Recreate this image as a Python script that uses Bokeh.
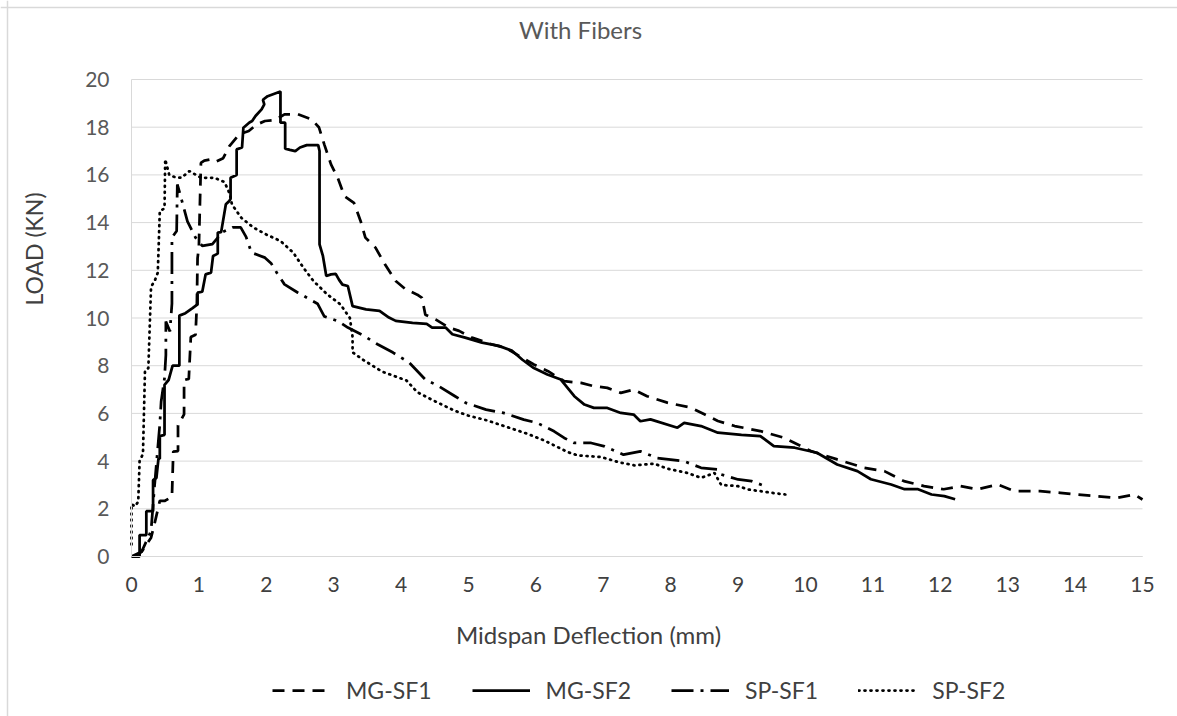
import math
from bokeh.plotting import figure
from bokeh.models import FixedTicker, Label, Legend, LegendItem, Range1d, Span
from bokeh.embed import file_html
from bokeh.resources import INLINE

# ---- data ----
x_ticks = list(range(0, 16))
y_ticks = list(range(0, 21, 2))

mg_sf1_x = [0.05, 0.15, 0.29, 0.34, 0.42, 0.49, 0.6, 0.62, 0.69, 0.69, 0.78, 0.78, 0.85, 0.88, 0.95, 0.97, 0.98, 1.0, 1.03, 1.08, 1.17, 1.25, 1.36, 1.45, 1.6, 1.74, 1.85, 1.98, 2.13, 2.27, 2.47, 2.67, 2.78, 2.86, 2.96, 3.06, 3.16, 3.3, 3.4, 3.47, 3.62, 3.76, 3.92, 4.07, 4.24, 4.31, 4.36, 4.51, 4.71, 4.86, 5.05, 5.34, 5.55, 5.75, 5.97, 6.18, 6.42, 6.67, 6.86, 7.06, 7.26, 7.45, 7.65, 7.95, 8.3, 8.5, 8.7, 8.95, 9.33, 9.68, 10.08, 10.47, 10.87, 11.17, 11.46, 11.76, 12.05, 12.3, 12.55, 12.85, 13.1, 13.48, 13.78, 14.02, 14.32, 14.62, 14.88, 15.0]
mg_sf1_y = [0.0, 0.2, 0.79, 1.35, 2.33, 2.33, 2.5, 4.4, 4.42, 5.5, 5.96, 7.4, 7.45, 9.2, 9.3, 10.57, 12.5, 13.0, 16.5, 16.6, 16.65, 16.55, 16.7, 17.2, 17.7, 17.84, 18.1, 18.26, 18.3, 18.54, 18.54, 18.33, 18.0, 17.28, 16.44, 15.88, 15.11, 14.83, 14.06, 13.37, 12.95, 12.25, 11.55, 11.2, 10.98, 10.84, 10.14, 9.94, 9.6, 9.46, 9.18, 8.9, 8.75, 8.41, 8.05, 7.77, 7.35, 7.28, 7.14, 7.07, 6.86, 7.0, 6.72, 6.45, 6.24, 5.96, 5.68, 5.47, 5.26, 4.98, 4.42, 4.07, 3.72, 3.58, 3.16, 2.95, 2.82, 2.95, 2.82, 3.02, 2.74, 2.74, 2.67, 2.6, 2.53, 2.46, 2.6, 2.39]

mg_sf2_x = [0.0, 0.12, 0.12, 0.22, 0.22, 0.32, 0.32, 0.37, 0.4, 0.42, 0.42, 0.49, 0.49, 0.55, 0.61, 0.71, 0.71, 0.8, 0.9, 0.98, 0.98, 1.05, 1.1, 1.18, 1.21, 1.28, 1.28, 1.33, 1.4, 1.45, 1.47, 1.47, 1.56, 1.56, 1.64, 1.66, 1.75, 1.79, 1.84, 1.93, 1.97, 1.95, 2.02, 2.21, 2.21, 2.28, 2.28, 2.35, 2.43, 2.5, 2.6, 2.77, 2.79, 2.79, 2.84, 2.89, 2.96, 3.03, 3.08, 3.13, 3.21, 3.28, 3.48, 3.68, 3.82, 3.92, 4.17, 4.38, 4.46, 4.66, 4.76, 4.95, 5.2, 5.45, 5.65, 5.8, 5.97, 6.17, 6.37, 6.47, 6.57, 6.72, 6.86, 7.06, 7.26, 7.45, 7.55, 7.7, 8.1, 8.2, 8.45, 8.7, 9.05, 9.33, 9.53, 9.84, 10.17, 10.47, 10.77, 10.97, 11.27, 11.47, 11.67, 11.87, 12.06, 12.22]
mg_sf2_y = [0.0, 0.0, 0.9, 0.9, 1.9, 1.9, 3.2, 3.3, 4.1, 4.1, 5.05, 5.1, 7.2, 7.4, 8.0, 8.0, 10.1, 10.2, 10.4, 10.57, 11.06, 11.1, 11.83, 11.9, 12.6, 12.7, 13.58, 13.6, 14.77, 14.9, 15.0, 15.88, 16.0, 17.07, 17.15, 17.98, 18.2, 18.26, 18.47, 18.75, 18.96, 19.15, 19.3, 19.5, 18.19, 18.19, 17.1, 17.05, 17.0, 17.15, 17.25, 17.25, 17.0, 13.09, 12.6, 11.76, 11.83, 11.85, 11.6, 11.4, 11.34, 10.5, 10.36, 10.3, 10.02, 9.88, 9.8, 9.75, 9.6, 9.6, 9.32, 9.18, 8.97, 8.83, 8.62, 8.25, 7.9, 7.63, 7.42, 7.07, 6.72, 6.37, 6.23, 6.23, 6.02, 5.95, 5.67, 5.75, 5.4, 5.6, 5.47, 5.19, 5.1, 5.05, 4.63, 4.56, 4.35, 3.86, 3.58, 3.24, 3.02, 2.82, 2.82, 2.6, 2.53, 2.4]

sp_sf1_x = [0.0, 0.15, 0.29, 0.34, 0.42, 0.44, 0.49, 0.51, 0.51, 0.57, 0.6, 0.6, 0.67, 0.68, 0.72, 0.83, 0.95, 1.05, 1.2, 1.35, 1.5, 1.62, 1.7, 1.78, 1.98, 2.07, 2.17, 2.27, 2.47, 2.76, 2.86, 3.06, 3.21, 3.45, 3.65, 3.88, 4.12, 4.36, 4.56, 4.8, 4.96, 5.26, 5.52, 5.82, 6.02, 6.27, 6.42, 6.57, 6.82, 7.02, 7.3, 7.55, 7.8, 8.0, 8.2, 8.45, 8.7, 8.75, 9.0, 9.2, 9.4]
sp_sf1_y = [0.0, 0.2, 1.07, 2.9, 5.54, 6.5, 7.48, 8.45, 9.85, 9.44, 10.6, 13.37, 13.65, 15.6, 15.2, 14.05, 13.37, 13.02, 13.1, 13.6, 13.8, 13.8, 13.4, 12.74, 12.53, 12.3, 11.83, 11.41, 11.06, 10.6, 10.07, 9.87, 9.6, 9.25, 8.9, 8.55, 8.13, 7.42, 7.14, 6.72, 6.44, 6.16, 6.02, 5.74, 5.6, 5.25, 4.97, 4.76, 4.76, 4.62, 4.27, 4.41, 4.13, 4.06, 3.99, 3.72, 3.65, 3.44, 3.23, 3.16, 2.95]

sp_sf2_x = [0.0, 0.0, 0.05, 0.1, 0.12, 0.17, 0.2, 0.25, 0.29, 0.35, 0.39, 0.42, 0.49, 0.5, 0.56, 0.65, 0.74, 0.86, 1.03, 1.23, 1.38, 1.46, 1.49, 1.63, 1.81, 2.0, 2.21, 2.4, 2.55, 2.7, 2.9, 3.1, 3.24, 3.28, 3.28, 3.45, 3.72, 4.08, 4.24, 4.48, 4.78, 4.98, 5.27, 5.57, 5.87, 6.12, 6.32, 6.47, 6.62, 6.97, 7.22, 7.46, 7.76, 7.95, 8.25, 8.45, 8.65, 8.75, 9.0, 9.15, 9.33, 9.5, 9.7]
sp_sf2_y = [0.5, 2.2, 2.1, 2.3, 4.0, 4.3, 7.78, 7.9, 11.3, 11.6, 11.9, 14.48, 14.6, 16.65, 16.0, 15.9, 15.88, 16.16, 15.88, 15.88, 15.7, 15.19, 14.76, 14.2, 13.79, 13.5, 13.23, 12.74, 12.11, 11.55, 11.0, 10.57, 10.0, 9.2, 8.56, 8.22, 7.75, 7.38, 6.89, 6.54, 6.13, 5.92, 5.71, 5.43, 5.15, 4.87, 4.59, 4.38, 4.24, 4.17, 3.96, 3.82, 3.89, 3.68, 3.5, 3.3, 3.5, 3.0, 2.95, 2.81, 2.74, 2.67, 2.6]

series_names = ["MG-SF1", "MG-SF2", "SP-SF1", "SP-SF2"]
chart_title = "With Fibers"
x_title = "Midspan Deflection (mm)"
y_title = "LOAD (KN)"

FONT = "Lato"
W, H = 1177, 716
# pixel positions of the plot area inside the canvas
PX0, PX1, PY_TOP, PY_BOT = 131, 1142, 79, 556
X0, X1, Y0, Y1 = 0, 15, 0, 20
xs = (PX1 - PX0) / (X1 - X0)
ys = (PY_BOT - PY_TOP) / (Y1 - Y0)
x_range = Range1d(X0 - PX0 / xs, X1 + (W - PX1) / xs)
y_range = Range1d(Y0 - (H - PY_BOT) / ys, Y1 + PY_TOP / ys)

p = figure(width=W, height=H, x_range=x_range, y_range=y_range, title=None,
           output_backend="svg", toolbar_location=None,
           min_border=0, min_border_left=0, min_border_right=0,
           min_border_top=0, min_border_bottom=0)
p.background_fill_color = "white"
p.border_fill_color = "white"
p.outline_line_color = None
p.xgrid.visible = False
p.ygrid.visible = False

# outer chart border (only its left and top edges are inside the crop)
p.add_layout(Span(location=7, location_units="screen", dimension="height",
                  line_color="#d9d9d9", line_width=1.5))
p.add_layout(Span(location=H - 7, location_units="screen", dimension="width",
                  line_color="#d9d9d9", line_width=1.5))

# gridlines of the plot area
p.segment(x0=[X0] * len(y_ticks), x1=[X1] * len(y_ticks), y0=y_ticks, y1=y_ticks,
          line_color="#d9d9d9", line_width=1)

r1 = p.line(mg_sf1_x, mg_sf1_y, line_color="black", line_width=2.75, line_dash="12 8")
r2 = p.line(mg_sf2_x, mg_sf2_y, line_color="black", line_width=2.75)
r3 = p.line(sp_sf1_x, sp_sf1_y, line_color="black", line_width=2.75, line_dash="22 7 3 7")
r4 = p.line(sp_sf2_x, sp_sf2_y, line_color="black", line_width=2.75, line_dash="1 5", line_cap="round")

# axes fixed at the origin of the plot area
p.xaxis.ticker = FixedTicker(ticks=x_ticks)
p.yaxis.ticker = FixedTicker(ticks=y_ticks)
p.xaxis.fixed_location = Y0
p.yaxis.fixed_location = X0
p.xaxis.bounds = (X0, X1)
p.yaxis.bounds = (Y0, Y1)
for ax in (p.xaxis[0], p.yaxis[0]):
    ax.major_tick_out = 0
    ax.major_tick_in = 0
    ax.minor_tick_out = 0
    ax.minor_tick_in = 0
    ax.axis_line_color = "#d9d9d9"
    ax.axis_line_width = 1
    ax.major_label_text_font = FONT
    ax.major_label_text_font_size = "21px"
p.xaxis.major_label_text_color = "#404040"
p.yaxis.major_label_text_color = "#595959"
p.xaxis.major_label_standoff = 20
p.yaxis.major_label_standoff = 22

# texts (screen units measured from the canvas bottom-left)
p.add_layout(Label(x=580, y=H - 29, x_units="screen", y_units="screen", text=chart_title,
                   text_align="center", text_baseline="alphabetic", text_font=FONT,
                   text_font_size="24px", text_color="#595959"))
p.add_layout(Label(x=588, y=H - 634, x_units="screen", y_units="screen", text=x_title,
                   text_align="center", text_baseline="alphabetic", text_font=FONT,
                   text_font_size="24px", text_color="#404040"))
p.add_layout(Label(x=33, y=H - 305, x_units="screen", y_units="screen", text=y_title,
                   angle=math.pi / 2, text_align="left", text_baseline="alphabetic", text_font=FONT,
                   text_font_size="23px", text_color="#404040"))

# legend
lg = Legend(items=[LegendItem(label=series_names[0], renderers=[r1]),
                   LegendItem(label=series_names[1], renderers=[r2]),
                   LegendItem(label=series_names[2], renderers=[r3]),
                   LegendItem(label=series_names[3], renderers=[r4])],
            orientation="horizontal", location=(272, H - 704))
lg.padding = 0
lg.margin = 0
lg.spacing = 40
lg.glyph_width = 58
lg.glyph_height = 24
lg.label_height = 24
lg.label_standoff = 16
lg.label_text_font = FONT
lg.label_text_font_size = "23px"
lg.label_text_color = "#404040"
lg.border_line_alpha = 0
lg.background_fill_alpha = 0
p.add_layout(lg, "center")

open("out.html", "w").write(file_html(p, INLINE))
